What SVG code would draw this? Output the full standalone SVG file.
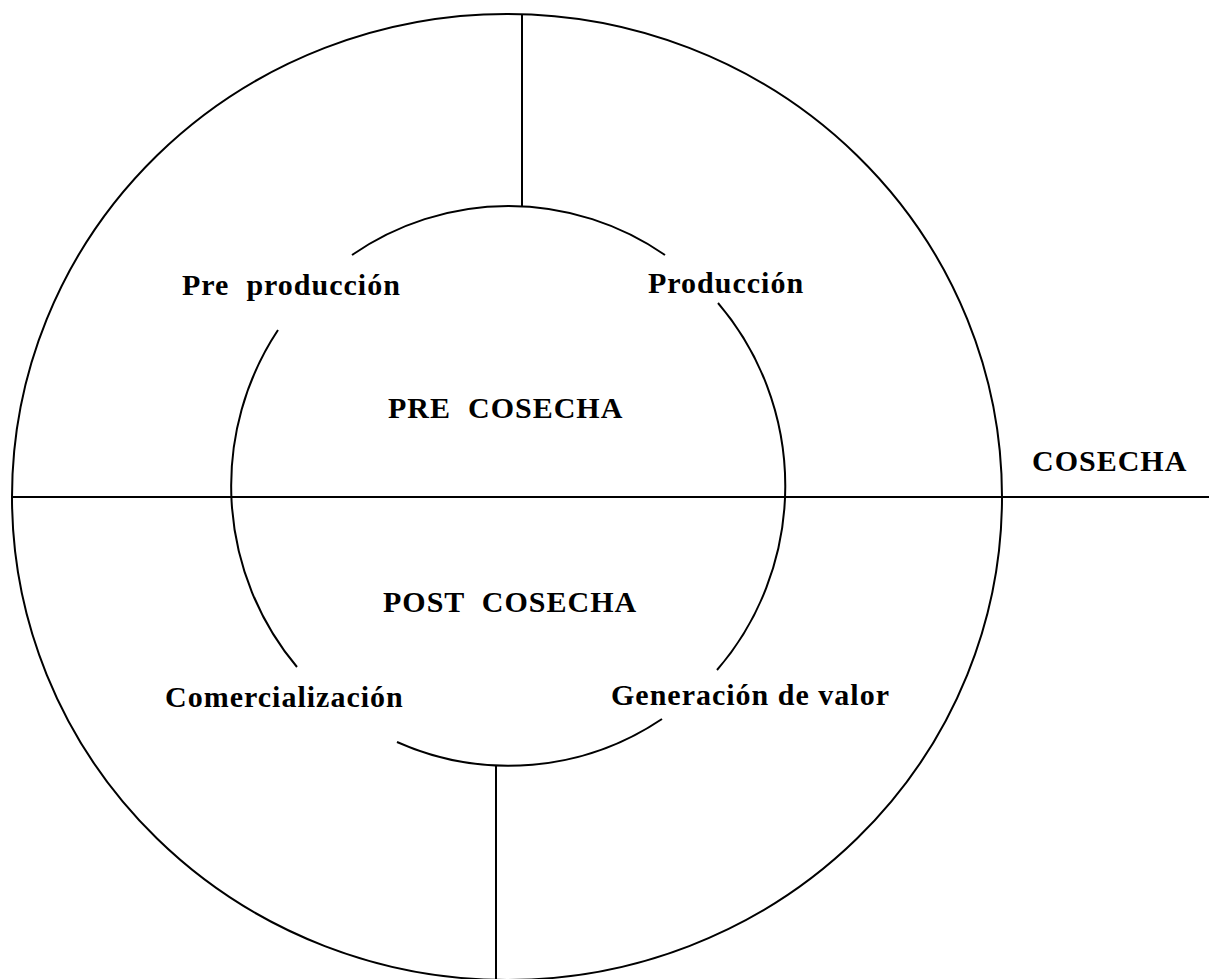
<svg xmlns="http://www.w3.org/2000/svg" width="1209" height="979" viewBox="0 0 1209 979">
  <style>
    .ln { fill: none; stroke: #000; stroke-width: 2; }
    .lbl { font-family: "Liberation Serif", "Times New Roman", serif; font-weight: bold; font-size: 30px; letter-spacing: 1px; fill: #000; }
  </style>
  <rect width="1209" height="979" fill="#fff"/>

  <!-- outer ring and dividing lines -->
  <g id="outer-ring">
    <ellipse class="ln" cx="507" cy="497" rx="495" ry="483"/>
  </g>
  <g id="connectors">
    <line class="ln" x1="12" y1="497" x2="1209" y2="497"/>
    <line class="ln" x1="522" y1="14" x2="522" y2="206"/>
    <line class="ln" x1="496" y1="766" x2="496" y2="980"/>
  </g>

  <!-- inner ring, broken where the stage labels sit -->
  <g id="inner-ring">
    <path class="ln" d="M352,255 A277,280 0 0 1 665,255"/>
    <path class="ln" d="M718,303 A277,280 0 0 1 717,670"/>
    <path class="ln" d="M662,719 A277,280 0 0 1 397,742"/>
    <path class="ln" d="M297,667 A277,280 0 0 1 278,330"/>
  </g>

  <g id="pre-produccion"><text class="lbl" x="182" y="295" xml:space="preserve">Pre  producción</text></g>
  <g id="produccion"><text class="lbl" x="648" y="293">Producción</text></g>
  <g id="pre-cosecha"><text class="lbl" x="388" y="418" xml:space="preserve">PRE  COSECHA</text></g>
  <g id="cosecha"><text class="lbl" x="1032" y="471">COSECHA</text></g>
  <g id="post-cosecha"><text class="lbl" x="383" y="612" xml:space="preserve">POST  COSECHA</text></g>
  <g id="comercializacion"><text class="lbl" x="165" y="707">Comercialización</text></g>
  <g id="generacion-valor"><text class="lbl" x="611" y="705">Generación de valor</text></g>
</svg>
